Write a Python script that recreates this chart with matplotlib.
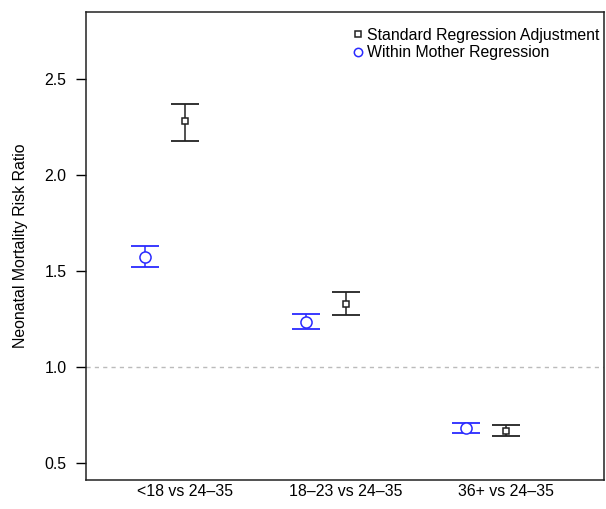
import numpy as np
import matplotlib
matplotlib.use("Agg")
import matplotlib.pyplot as plt

plt.rcParams['font.family'] = ['Liberation Sans', 'DejaVu Sans']

groups = ["<18 vs 24\u201335", "18\u201323 vs 24\u201335", "36+ vs 24\u201335"]

# Standard regression adjustment: estimate, lower, upper
std_est = [2.28, 1.33, 0.667]
std_lo = [2.18, 1.271, 0.64]
std_hi = [2.37, 1.39, 0.698]

# Within mother regression
wm_est = [1.573, 1.234, 0.682]
wm_lo = [1.52, 1.198, 0.656]
wm_hi = [1.632, 1.276, 0.708]

blue = '#2a2aff'
dark = '#222222'
fs = 11.4

fig = plt.figure(figsize=(6.06, 5.09), dpi=100)
ax = fig.add_axes([0.142, 0.057, 0.855, 0.919])

x = np.arange(1, len(groups) + 1)
off = 0.25

ax.axhline(1.0, color='#bbbbbb', lw=1, ls=(0, (3, 3)), zorder=0)

def draw(xs, est, lo, hi, color, marker, ms, label):
    est = np.array(est); lo = np.array(lo); hi = np.array(hi)
    ax.errorbar(xs, est, yerr=[est - lo, hi - est], fmt='none', ecolor=color,
                elinewidth=1.1, capsize=10, capthick=1.3)
    ax.plot(xs, est, ls='none', marker=marker, ms=ms, mfc='white', mec=color,
            mew=1.1, label=label, zorder=3)

draw(x, std_est, std_lo, std_hi, dark, 's', 5, "Standard Regression Adjustment")
draw(x - off, wm_est, wm_lo, wm_hi, blue, 'o', 8, "Within Mother Regression")

ax.set_xlim(0.383, 3.61)
ax.set_ylim(0.411, 2.849)
ax.set_xticks(x)
ax.set_xticklabels(groups, fontsize=fs)
ax.tick_params(axis='x', length=0, pad=3)
ax.set_yticks([0.5, 1.0, 1.5, 2.0, 2.5])
ax.tick_params(axis='y', length=7, width=1, labelsize=fs, pad=7)
ax.set_ylabel("Neonatal Mortality Risk Ratio", fontsize=fs, labelpad=12)
for s in ax.spines.values():
    s.set_linewidth(1.1)
    s.set_color(dark)

leg = ax.legend(loc='upper right', frameon=False, fontsize=fs,
                handlelength=0.6, handletextpad=0.25, borderaxespad=0.0,
                labelspacing=0.15, bbox_to_anchor=(1.002, 0.98))
leg.legend_handles[1].set_markersize(6)

fig.savefig("out.png", dpi=100)
